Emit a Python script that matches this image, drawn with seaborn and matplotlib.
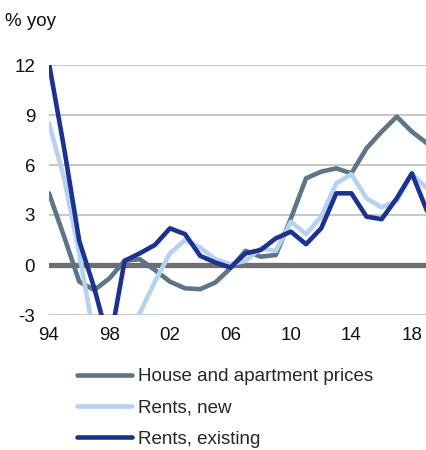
import matplotlib
matplotlib.use("Agg")
import matplotlib.pyplot as plt
import seaborn as sns
import pandas as pd

# annual data, % yoy
years = list(range(1994, 2020))
house_prices = [4.3, 1.7, -1.0, -1.5, -0.8, 0.25, 0.35, -0.3, -1.0, -1.4, -1.45, -1.05, -0.2,
                0.85, 0.5, 0.6, 2.8, 5.2, 5.6, 5.8, 5.5, 7.0, 8.0, 8.9, 8.0, 7.3]
rents_new = [8.5, 5.2, 0.7, -4.4, -5.0, -4.0, -2.9, -1.0, 0.7, 1.5, 1.05, 0.35, 0.05,
             0.25, 1.0, 0.85, 2.6, 1.85, 2.9, 4.9, 5.45, 4.0, 3.45, 3.85, 5.45, 4.6]
rents_existing = [12.1, 7.0, 1.45, -1.4, -4.8, 0.25, 0.7, 1.2, 2.2, 1.85, 0.55, 0.15, -0.15,
                  0.7, 0.9, 1.6, 2.0, 1.25, 2.2, 4.3, 4.3, 2.9, 2.75, 4.0, 5.5, 3.25]

series_names = ["House and apartment prices", "Rents, new", "Rents, existing"]
colors = ["#5e7587", "#b5d3f0", "#1b3293"]
y_ticks = [-3, 0, 3, 6, 9, 12]
x_ticks = [1994, 1998, 2002, 2006, 2010, 2014, 2018]
x_labels = ["94", "98", "02", "06", "10", "14", "18"]

df = pd.DataFrame({
    "year": years * 3,
    "value": house_prices + rents_new + rents_existing,
    "series": [series_names[0]] * len(years) + [series_names[1]] * len(years)
              + [series_names[2]] * len(years),
})

sns.set_style("white")
plt.rcParams["font.family"] = ["Liberation Sans", "DejaVu Sans"]
plt.rcParams["axes.unicode_minus"] = False

fig = plt.figure(figsize=(4.27, 4.5), dpi=100)
ax = fig.add_axes([49 / 427, 1 - 315 / 450, 378 / 427, 250 / 450])

for yv in y_ticks:
    if yv != 0:
        ax.axhline(yv, color="#bdbdbd", lw=1.2, zorder=0)
ax.axhline(0, color="#6e6e6e", lw=3.8, zorder=1)

sns.lineplot(data=df, x="year", y="value", hue="series", hue_order=series_names,
             palette=colors, linewidth=3.3, ax=ax, legend=False, zorder=3)

ax.set_xlim(1994, 2019)
ax.set_ylim(-3, 12)
ax.set_xticks(x_ticks)
ax.set_xticklabels(x_labels)
ax.set_yticks(y_ticks)
ax.set_xlabel("")
ax.set_ylabel("")
ax.tick_params(axis="both", length=0, labelsize=13.5, colors="#111111")
ax.tick_params(axis="y", pad=10)
ax.tick_params(axis="x", pad=9)
for s in ax.spines.values():
    s.set_visible(False)

fig.text(5 / 427, 1 - 21 / 450, "% yoy", fontsize=13.5, va="center", ha="left", color="#111111")

handles = [plt.Line2D([], [], color=c, lw=3.3) for c in colors]
fig.legend(handles, series_names, loc="upper left", bbox_to_anchor=(77 / 427, 1 - 368 / 450),
           frameon=False, fontsize=13.5, handlelength=2.95, handletextpad=0.3,
           labelspacing=0.75, borderaxespad=0, borderpad=0)

fig.savefig("out.png", dpi=100)
